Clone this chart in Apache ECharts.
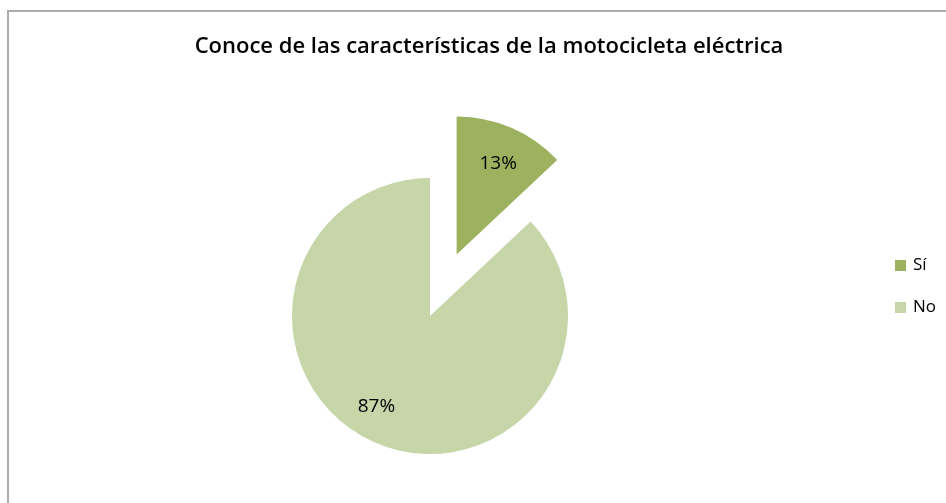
<!DOCTYPE html>
<html>
<head>
<meta charset="utf-8">
<script src="https://cdn.jsdelivr.net/npm/echarts@6/dist/echarts.min.js"></script>
<style>
  html, body { margin: 0; padding: 0; background: #fff; }
  #chart { width: 946px; height: 503px; }
</style>
</head>
<body>
<div id="chart"></div>
<script>
const titleText = "Conoce de las características de la motocicleta eléctrica";
const categories = ["Sí", "No"];
const values = [13, 87];
const colors = ["#9CB25F", "#C6D6A8"];

const chart = echarts.init(document.getElementById("chart"));

// nudge labels outward the way Excel places them
const labelShift = [[13, -25], [-25, 25]];

const option = {
  animation: false,
  title: {
    text: titleText,
    left: 484,
    top: 31,
    textAlign: "center",
    textStyle: {
      fontFamily: "Open Sans",
      fontWeight: 600,
      fontSize: 22,
      color: "#000"
    }
  },
  legend: {
    orient: "vertical",
    left: 890,
    top: 252,
    itemWidth: 11,
    itemHeight: 11,
    itemGap: 25,
    icon: "rect",
    textStyle: { fontFamily: "Open Sans", fontSize: 17, color: "#000", padding: [0, 0, 0, 2] },
    data: categories
  },
  graphic: [
    { type: "line", shape: { x1: 8, y1: 11, x2: 946, y2: 11 }, style: { stroke: "#ababab", lineWidth: 2 } },
    { type: "line", shape: { x1: 8, y1: 10, x2: 8, y2: 503 }, style: { stroke: "#ababab", lineWidth: 2 } }
  ],
  series: [
    {
      type: "pie",
      center: [430, 316],
      radius: 138,
      startAngle: 90,
      clockwise: true,
      selectedMode: "single",
      selectedOffset: 67,
      emphasis: { disabled: true },
      label: {
        position: "inside",
        formatter: "{d}%",
        fontFamily: "Open Sans",
        fontSize: 19,
        color: "#000"
      },
      labelLayout: function (p) {
        const s = labelShift[p.dataIndex];
        return { dx: s[0], dy: s[1] };
      },
      data: categories.map((c, i) => ({
        name: c,
        value: values[i],
        selected: i === 0,
        itemStyle: { color: colors[i] }
      }))
    }
  ]
};

chart.setOption(option);
</script>
</body>
</html>
